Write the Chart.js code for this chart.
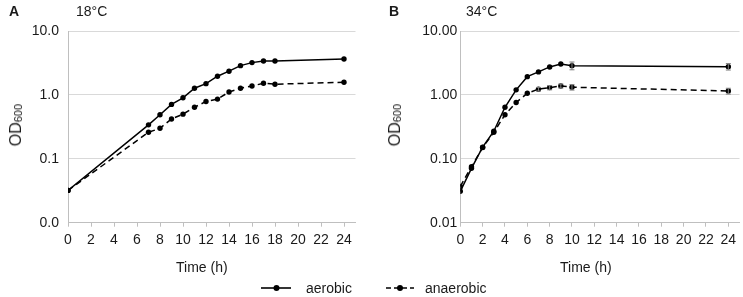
<!DOCTYPE html>
<html>
<head>
<meta charset="utf-8">
<script src="https://cdn.jsdelivr.net/npm/chart.js@4/dist/chart.umd.min.js"></script>
<style>
  html, body { margin: 0; padding: 0; background: #fff; }
  body { width: 743px; height: 297px; position: relative; overflow: hidden;
         font-family: "Liberation Sans", Arial, sans-serif; color: #1a1a1a; }
  .abs { position: absolute; white-space: nowrap; }
  canvas { position: absolute; top: 0; }
  .lbl { font-size: 14px; line-height: 16px; }
  .panel { font-weight: bold; font-size: 14px; }
  .ytitle { font-size: 16px; line-height: 18px; font-weight: normal; color: #1a1a1a;
            writing-mode: vertical-rl; transform: rotate(180deg); }
  .ytitle sub { font-size: 11px; vertical-align: -2px; }
</style>
</head>
<body>
<canvas id="chartA" width="370" height="297" style="left:0;width:370px;height:297px"></canvas>
<canvas id="chartB" width="373" height="297" style="left:370px;width:373px;height:297px"></canvas>

<div class="abs panel" style="left:9px;top:3px;">A</div>
<div class="abs lbl" style="left:76px;top:3px;">18°C</div>
<div class="abs panel" style="left:389px;top:3px;">B</div>
<div class="abs lbl" style="left:466px;top:3px;">34°C</div>

<div class="abs ytitle" style="left:7px;top:104px;">OD<sub>600</sub></div>
<div class="abs ytitle" style="left:386px;top:104px;">OD<sub>600</sub></div>

<div class="abs lbl" style="left:176px;top:259px;">Time (h)</div>
<div class="abs lbl" style="left:560px;top:259px;">Time (h)</div>

<svg class="abs" style="left:258px;top:282px;" width="36" height="12">
  <line x1="3" y1="6" x2="33" y2="6" stroke="#000" stroke-width="1.6"/>
  <circle cx="18.5" cy="6" r="3" fill="#000"/>
</svg>
<div class="abs lbl" style="left:306px;top:280px;">aerobic</div>
<svg class="abs" style="left:384px;top:282px;" width="32" height="12">
  <line x1="2" y1="6" x2="30" y2="6" stroke="#000" stroke-width="1.6" stroke-dasharray="5,3"/>
  <circle cx="16" cy="6" r="3" fill="#000"/>
</svg>
<div class="abs lbl" style="left:425px;top:280px;">anaerobic</div>

<script>
// ---------- data ----------
const seriesNames = ["aerobic", "anaerobic"];
const xTicks = [0, 2, 4, 6, 8, 10, 12, 14, 16, 18, 20, 22, 24];
const yTicks = [0.01, 0.1, 1, 10];
const yTickLabelsA = ["0.0", "0.1", "1.0", "10.0"];
const yTickLabelsB = ["0.01", "0.10", "1.00", "10.00"];

// Panel A (18°C)
const timeA = [0, 7, 8, 9, 10, 11, 12, 13, 14, 15, 16, 17, 18, 24];
const aerobicA   = [0.032, 0.34, 0.49, 0.71, 0.90, 1.27, 1.50, 1.96, 2.35, 2.87, 3.20, 3.40, 3.40, 3.65];
const anaerobicA = [0.032, 0.26, 0.30, 0.42, 0.50, 0.64, 0.79, 0.86, 1.11, 1.27, 1.38, 1.52, 1.47, 1.58];
const aerobicErrA   = [0, 0, 0, 0, 0, 0, 0, 0, 0, 0, 0, 0, 0, 0];
const anaerobicErrA = [0, 0, 0, 0, 0, 0, 0, 0, 0, 0, 0, 0, 0, 0];

// Panel B (34°C)
const timeB = [0, 1, 2, 3, 4, 5, 6, 7, 8, 9, 10, 24];
const aerobicB   = [0.031, 0.071, 0.152, 0.27, 0.64, 1.20, 1.93, 2.29, 2.74, 3.05, 2.87, 2.77];
const anaerobicB = [0.037, 0.075, 0.150, 0.26, 0.49, 0.76, 1.06, 1.23, 1.30, 1.38, 1.32, 1.15];
const aerobicErrB   = [0, 0, 0, 0, 0, 0, 0, 0, 0, 0, 0.40, 0.32];
const anaerobicErrB = [0, 0, 0, 0, 0, 0, 0, 0.08, 0.10, 0.10, 0.13, 0.12];

// ---------- helpers ----------
const FONT = '"Liberation Sans", Arial, sans-serif';
const TEXT = '#1a1a1a';
const GRID = '#d9d9d9';
const AXIS = '#bfbfbf';

function pts(xs, ys) { return xs.map((x, i) => ({ x: x, y: ys[i] })); }

function ds(label, xs, ys, errs, dashed) {
  return {
    label: label,
    data: pts(xs, ys),
    errors: errs,
    borderColor: '#000',
    backgroundColor: '#000',
    borderWidth: 1.5,
    borderDash: dashed ? [6, 4] : [],
    pointRadius: 2.7,
    pointHoverRadius: 2.7,
    pointBorderWidth: 0,
    pointStyle: 'circle',
    tension: 0,
    fill: false
  };
}

const errorBarPlugin = {
  id: 'errorBars',
  afterDatasetsDraw(chart) {
    const ctx = chart.ctx;
    const xs = chart.scales.x, ys = chart.scales.y;
    ctx.save();
    ctx.strokeStyle = '#7f7f7f';
    ctx.lineWidth = 1;
    chart.data.datasets.forEach(d => {
      d.data.forEach((p, i) => {
        const e = d.errors[i];
        if (!e) return;
        const px = xs.getPixelForValue(p.x);
        const yt = ys.getPixelForValue(p.y + e);
        const yb = ys.getPixelForValue(p.y - e);
        ctx.beginPath();
        ctx.moveTo(px, yt); ctx.lineTo(px, yb);
        ctx.moveTo(px - 2.5, yt); ctx.lineTo(px + 2.5, yt);
        ctx.moveTo(px - 2.5, yb); ctx.lineTo(px + 2.5, yb);
        ctx.stroke();
      });
    });
    ctx.restore();
  }
};

function makeChart(id, xs, aer, anaer, aerErr, anaerErr, yLabels, yAxisWidth, yPad, padRight) {
  return new Chart(document.getElementById(id), {
    type: 'line',
    data: {
      datasets: [
        ds(seriesNames[0], xs, aer, aerErr, false),
        ds(seriesNames[1], xs, anaer, anaerErr, true)
      ]
    },
    options: {
      responsive: false,
      animation: false,
      events: [],
      layout: { padding: { left: 0, right: padRight, top: 31, bottom: 0 } },
      plugins: { legend: { display: false }, tooltip: { enabled: false }, title: { display: false } },
      scales: {
        x: {
          type: 'linear',
          min: 0, max: 25,
          afterBuildTicks: s => { s.ticks = xTicks.map(v => ({ value: v })); },
          afterFit: s => { s.height = 74.3; },
          grid: { drawOnChartArea: false, drawTicks: true, tickLength: 4, color: AXIS, lineWidth: 1 },
          border: { display: true, color: AXIS, width: 1 },
          ticks: { color: TEXT, font: { family: FONT, size: 14 }, padding: 5, maxRotation: 0, autoSkip: false },
          title: { display: false }
        },
        y: {
          type: 'logarithmic',
          min: 0.01, max: 10,
          afterBuildTicks: s => { s.ticks = yTicks.map(v => ({ value: v })); },
          afterFit: s => { s.width = yAxisWidth; },
          grid: { drawOnChartArea: true, drawTicks: false, color: GRID, lineWidth: 1 },
          border: { display: true, color: AXIS, width: 1 },
          ticks: {
            color: TEXT, font: { family: FONT, size: 14 }, padding: yPad, autoSkip: false,
            callback: (v) => { const i = yTicks.indexOf(v); return i >= 0 ? yLabels[i] : ''; }
          },
          title: { display: false }
        }
      }
    },
    plugins: [errorBarPlugin]
  });
}

makeChart('chartA', timeA, aerobicA, anaerobicA, aerobicErrA, anaerobicErrA, yTickLabelsA, 68, 9, 14.5);
makeChart('chartB', timeB, aerobicB, anaerobicB, aerobicErrB, anaerobicErrB, yTickLabelsB, 90.3, 3, 3.5);
</script>
</body>
</html>
